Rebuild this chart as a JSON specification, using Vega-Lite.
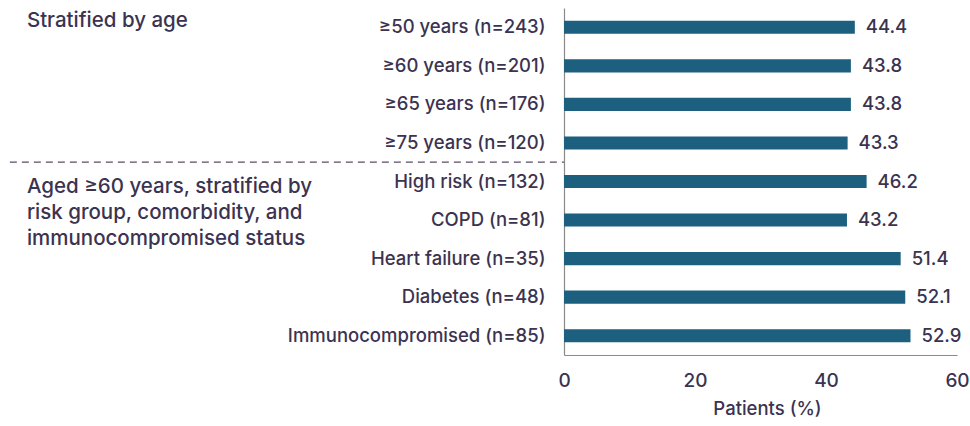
{
  "$schema": "https://vega.github.io/schema/vega-lite/v6.json",
  "width": 393,
  "height": 347,
  "autosize": "none",
  "padding": {"left": 564, "top": 8, "right": 13, "bottom": 71},
  "background": "white",
  "config": {
    "view": {"stroke": null},
    "font": "Inter",
    "text": {"font": "Inter"}
  },
  "datasets": {
    "bars": [
      {"cat": "≥50 years (n=243)", "value": 44.4},
      {"cat": "≥60 years (n=201)", "value": 43.8},
      {"cat": "≥65 years (n=176)", "value": 43.8},
      {"cat": "≥75 years (n=120)", "value": 43.3},
      {"cat": "High risk (n=132)", "value": 46.2},
      {"cat": "COPD (n=81)", "value": 43.2},
      {"cat": "Heart failure (n=35)", "value": 51.4},
      {"cat": "Diabetes (n=48)", "value": 52.1},
      {"cat": "Immunocompromised (n=85)", "value": 52.9}
    ],
    "group1": [
      {"cat": "≥50 years (n=243)", "x": -82, "label": "Stratified by age"}
    ],
    "group2": [
      {"cat": "High risk (n=132)", "x": -82, "label": "Aged ≥60 years, stratified by\nrisk group, comorbidity, and\nimmunocompromised status"}
    ],
    "divider": [
      {"cat": "High risk (n=132)", "x": -84.6, "x2": 0}
    ]
  },
  "encoding": {
    "y": {
      "field": "cat",
      "type": "nominal",
      "sort": null,
      "scale": {"domain": ["≥50 years (n=243)", "≥60 years (n=201)", "≥65 years (n=176)", "≥75 years (n=120)", "High risk (n=132)", "COPD (n=81)", "Heart failure (n=35)", "Diabetes (n=48)", "Immunocompromised (n=85)"], "paddingInner": 0, "paddingOuter": 0}
    }
  },
  "layer": [
    {
      "data": {"name": "bars"},
      "mark": {"type": "bar", "color": "#1d5f7e", "height": {"band": 0.34}},
      "encoding": {
        "x": {
          "field": "value",
          "type": "quantitative",
          "scale": {"domain": [0, 60]},
          "axis": {
            "values": [0, 20, 40, 60],
            "ticks": false,
            "grid": false,
            "labelFlush": false,
            "domainColor": "#8a8a8a",
            "domainWidth": 1.2,
            "labelFont": "Inter",
            "labelFontSize": 19,
            "labelFontWeight": 500,
            "labelColor": "#3b3350",
            "labelPadding": 16,
            "title": "Patients (%)",
            "titleFont": "Inter",
            "titleFontSize": 18.5,
            "titleFontWeight": 500,
            "titleColor": "#3b3350",
            "titlePadding": 9,
            "titleX": 203
          }
        },
        "y": {
          "field": "cat",
          "type": "nominal",
          "sort": null,
          "axis": {
            "title": null,
            "ticks": false,
            "domainColor": "#8a8a8a",
            "domainWidth": 1.2,
            "labelFont": "Inter",
            "labelFontSize": 18.5,
            "labelFontWeight": 500,
            "labelColor": "#3b3350",
            "labelPadding": 19,
            "labelLimit": 400
          }
        }
      }
    },
    {
      "data": {"name": "bars"},
      "mark": {"type": "text", "align": "left", "baseline": "middle", "dx": 11, "fontSize": 18.5, "fontWeight": 500, "color": "#3b3350", "font": "Inter"},
      "encoding": {
        "x": {"field": "value", "type": "quantitative"},
        "text": {"field": "value", "type": "quantitative", "format": ".1f"}
      }
    },
    {
      "data": {"name": "group1"},
      "mark": {"type": "text", "align": "left", "baseline": "top", "dy": -16, "fontSize": 20.5, "fontWeight": 500, "color": "#3b3350", "font": "Inter"},
      "encoding": {
        "x": {"field": "x", "type": "quantitative"},
        "y": {"field": "cat", "type": "nominal", "sort": null, "bandPosition": 0.5},
        "text": {"field": "label"}
      }
    },
    {
      "data": {"name": "group2"},
      "mark": {"type": "text", "align": "left", "baseline": "top", "dy": -5, "fontSize": 20.5, "fontWeight": 500, "lineHeight": 26, "lineBreak": "\n", "color": "#3b3350", "font": "Inter"},
      "encoding": {
        "x": {"field": "x", "type": "quantitative"},
        "y": {"field": "cat", "type": "nominal", "sort": null, "bandPosition": 0.5},
        "text": {"field": "label"}
      }
    },
    {
      "data": {"name": "divider"},
      "mark": {"type": "rule", "strokeDash": [7, 5], "color": "#5a4a66", "strokeWidth": 1.2},
      "encoding": {
        "x": {"field": "x", "type": "quantitative"},
        "x2": {"field": "x2"},
        "y": {"field": "cat", "type": "nominal", "sort": null, "bandPosition": 0}
      }
    }
  ]
}
